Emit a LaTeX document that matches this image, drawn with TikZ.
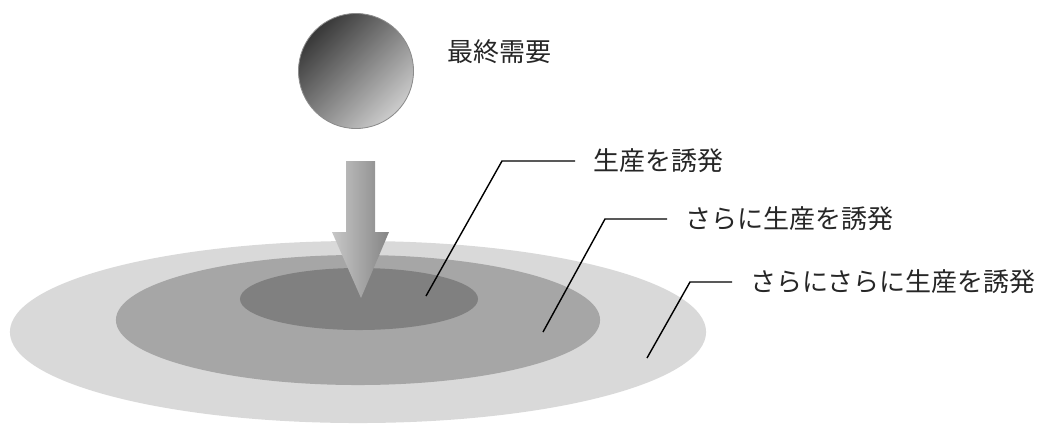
\documentclass[tikz,border=0pt]{standalone}
\usepackage{fontspec}
\newfontfamily\jpfont{Noto Sans CJK JP}
\usepackage{tikz}
\usetikzlibrary{positioning, calc}
\definecolor{ring-outer}{HTML}{D9D9D9}
\definecolor{ring-mid}{HTML}{A6A6A6}
\definecolor{ring-inner}{HTML}{808080}
\definecolor{label-ink}{HTML}{262626}

\begin{document}
\begin{tikzpicture}[x=0.025cm, y=-0.025cm,
    lbl/.style={anchor=west, inner xsep=0.45cm, inner ysep=0pt, text=label-ink,
                font=\jpfont\fontsize{18.5pt}{22pt}\selectfont},
    leader/.style={line width=1pt, black}]
    \useasboundingbox (0,0) rectangle (1053,423);

    % Rings of induced production
    \fill[ring-outer] (358,332) ellipse (8.7cm and 2.275cm);
    \fill[ring-mid] (358,320) ellipse (6.05cm and 1.625cm);
    \fill[ring-inner] (359,299) ellipse (2.975cm and 0.775cm);

    % Final demand ball
    \shade[top color=black!78, bottom color=black!20, shading angle=45,
           draw=black!45, line width=0.6pt] (356,71) circle (1.4375cm);
    \node[lbl, inner xsep=0pt] (demand) at (447,52) {最終需要};

    % Down arrow
    \shade[left color=black!22, right color=black!48]
        (346,161) -- (375,161) -- (375,232) -- (389,232) -- (361,298)
        -- (332,232) -- (346,232) -- cycle;

    % Labels with leaders
    \foreach \n/\tip/\bend/\pos/\txt in {
        1/{426,296}/{502,161}/{575,161}/{生産を誘発},
        2/{543,332}/{605,219}/{667,219}/{さらに生産を誘発},
        3/{647,358}/{690,282}/{732,282}/{さらにさらに生産を誘発}} {
        \coordinate (tip\n) at (\tip);
        \coordinate (bend\n) at (\bend);
        \node[lbl] (lab\n) at (\pos) {\txt};
        \draw[leader] (tip\n) -- (bend\n) -- (lab\n.west);
    }
\end{tikzpicture}
\end{document}
